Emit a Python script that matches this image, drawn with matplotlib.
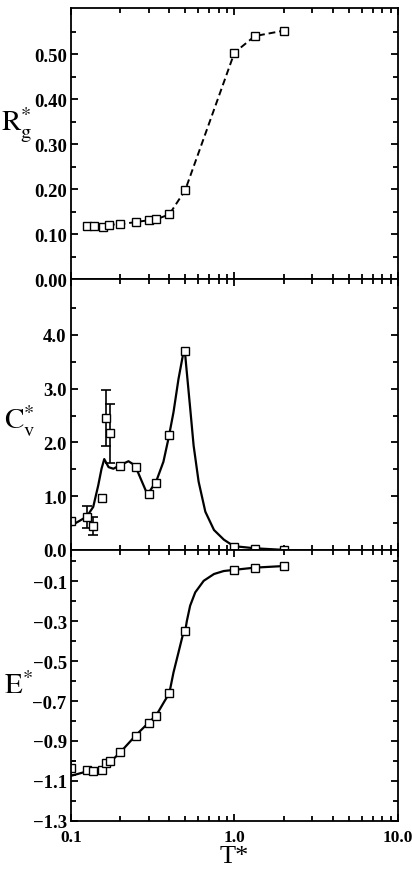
"""
Three stacked panels vs reduced temperature T*:
radius of gyration Rg*, heat capacity Cv*, energy E*
"""

import matplotlib
matplotlib.use("Agg")

import matplotlib.pyplot as plt
from matplotlib.ticker import FuncFormatter, LogLocator, NullFormatter
import numpy as np

plt.rcParams.update({
    "font.family":       "Liberation Serif",
    "mathtext.fontset":  "stix",
    "axes.linewidth":    1.3,
    "xtick.direction":   "in",
    "ytick.direction":   "in",
})

# ── data ─────────────────────────────────────────────────────────────────────
# radius of gyration
T_rg = [0.125, 0.139, 0.158, 0.172, 0.2, 0.25, 0.3, 0.333, 0.4, 0.5, 1.0, 1.333, 2.0]
rg   = [0.118, 0.118, 0.117, 0.121, 0.122, 0.127, 0.131, 0.133, 0.144, 0.198, 0.504, 0.541, 0.553]

# heat capacity, simulation points
T_cv   = [0.1, 0.125, 0.1375, 0.156, 0.164, 0.173, 0.2, 0.25, 0.3, 0.333, 0.4, 0.5, 1.0, 1.333, 2.0]
cv     = [0.53, 0.61, 0.44, 0.96, 2.46, 2.17, 1.57, 1.55, 1.04, 1.25, 2.13, 3.71, 0.05, 0.02, 0.0]
cv_err = [0.0, 0.20, 0.17, 0.0, 0.52, 0.55, 0.0, 0.0, 0.0, 0.0, 0.0, 0.0, 0.0, 0.0, 0.0]

# heat capacity, smooth curve
T_cv_fit = [0.1, 0.113, 0.125, 0.137, 0.147, 0.154, 0.160, 0.170, 0.182, 0.198, 0.225,
            0.247, 0.272, 0.294, 0.332, 0.368, 0.395, 0.424, 0.455, 0.484, 0.497, 0.507,
            0.537, 0.563, 0.604, 0.664, 0.75, 0.862, 0.99, 1.33, 2.0]
cv_fit   = [0.45, 0.54, 0.62, 0.80, 1.20, 1.51, 1.69, 1.54, 1.51, 1.57, 1.65,
            1.57, 1.27, 1.03, 1.27, 1.64, 2.07, 2.56, 3.18, 3.62, 3.72, 3.43,
            2.62, 1.94, 1.27, 0.71, 0.37, 0.19, 0.07, 0.03, 0.0]

# energy, simulation points
T_e   = [0.1, 0.125, 0.1375, 0.156, 0.164, 0.173, 0.2, 0.25, 0.3, 0.333, 0.4, 0.5, 1.0, 1.333, 2.0]
e     = [-1.038, -1.048, -1.051, -1.046, -1.010, -1.000, -0.955, -0.874, -0.811, -0.774,
         -0.662, -0.350, -0.042, -0.033, -0.023]
e_err = [0.035, 0, 0, 0, 0, 0, 0, 0, 0, 0, 0, 0, 0, 0, 0]

# energy, smooth curve
T_e_fit = [0.1, 0.119, 0.144, 0.155, 0.173, 0.2, 0.25, 0.3, 0.333, 0.368, 0.4, 0.424,
           0.455, 0.482, 0.5, 0.512, 0.536, 0.576, 0.649, 0.75, 0.86, 1.0, 1.333, 2.0]
e_fit   = [-1.075, -1.058, -1.053, -1.041, -1.008, -0.958, -0.871, -0.807, -0.771, -0.71,
           -0.66, -0.557, -0.456, -0.373, -0.349, -0.298, -0.222, -0.155, -0.097, -0.063,
           -0.048, -0.042, -0.031, -0.023]

# ── figure ───────────────────────────────────────────────────────────────────
fig = plt.figure(figsize=(4.12, 8.70), dpi=100)
left, width, height = 0.172, 0.794, 0.3113
ax_rg = fig.add_axes([left, 0.0555 + 2 * height, width, height])
ax_cv = fig.add_axes([left, 0.0555 + height, width, height], sharex=ax_rg)
ax_e  = fig.add_axes([left, 0.0555, width, height], sharex=ax_rg)

mk = dict(marker="s", markersize=5.5, markerfacecolor="white",
          markeredgecolor="black", markeredgewidth=1.0)

ax_rg.plot(T_rg, rg, color="black", linestyle=(0, (3.5, 2)), linewidth=1.4, **mk)

ax_cv.plot(T_cv_fit, cv_fit, color="black", linewidth=1.6)
err_idx = [i for i, v in enumerate(cv_err) if v > 0]
ax_cv.errorbar([T_cv[i] for i in err_idx], [cv[i] for i in err_idx],
               yerr=[cv_err[i] for i in err_idx], fmt="none", ecolor="black",
               elinewidth=1.2, capsize=3.5, capthick=1.2)
ax_cv.plot(T_cv, cv, linestyle="none", **mk)

ax_e.plot(T_e_fit, e_fit, color="black", linewidth=1.6)
err_idx = [i for i, v in enumerate(e_err) if v > 0]
ax_e.errorbar([T_e[i] for i in err_idx], [e[i] for i in err_idx],
              yerr=[e_err[i] for i in err_idx], fmt="none", ecolor="black",
              elinewidth=1.2, capsize=3.5, capthick=1.2)
ax_e.plot(T_e, e, linestyle="none", **mk)


def fmt(decimals):
    return FuncFormatter(lambda v, p: f"{v:.{decimals}f}".replace("-", "\u2212"))


TICK_FS = 13.5

ax_rg.set_xscale("log")
ax_rg.set_xlim(0.1, 10.0)

ax_rg.set_ylim(0.0, 0.603)
ax_rg.set_yticks(np.arange(0.0, 0.51, 0.1))
ax_rg.set_yticks(np.arange(0.05, 0.60, 0.1), minor=True)
ax_rg.yaxis.set_major_formatter(fmt(2))

ax_cv.set_ylim(0.0, 5.04)
ax_cv.set_yticks(np.arange(0.0, 4.01, 1.0))
ax_cv.set_yticks(np.arange(0.5, 5.0, 1.0), minor=True)
ax_cv.yaxis.set_major_formatter(fmt(1))

ax_e.set_ylim(-1.3, 0.058)
ax_e.set_yticks(np.arange(-1.3, -0.05, 0.2))
ax_e.set_yticks(np.arange(-1.2, 0.05, 0.2), minor=True)
ax_e.yaxis.set_major_formatter(fmt(1))

for ax in (ax_rg, ax_cv, ax_e):
    ax.xaxis.set_major_locator(LogLocator(base=10, numticks=10))
    ax.xaxis.set_minor_locator(LogLocator(base=10, subs=np.arange(2, 10), numticks=10))
    ax.xaxis.set_minor_formatter(NullFormatter())
    ax.tick_params(which="both", top=True, right=True, width=1.3)
    ax.tick_params(which="major", length=5)
    ax.tick_params(which="minor", length=3.5)
    ax.tick_params(axis="y", pad=3)
    for lab in ax.get_yticklabels():
        lab.set_fontsize(TICK_FS)
        lab.set_fontweight("bold")

for ax in (ax_rg, ax_cv):
    ax.tick_params(axis="x", labelbottom=False)

ax_e.tick_params(axis="x", pad=6)
ax_e.xaxis.set_major_formatter(FuncFormatter(lambda v, p: f"{v:.1f}"))
for lab in ax_e.get_xticklabels():
    lab.set_fontsize(12.5)
    lab.set_fontweight("bold")

ax_rg.set_ylabel(r"$\mathrm{R}_\mathrm{g}^{*}$", fontsize=21, rotation=0, va="center")
ax_cv.set_ylabel(r"$\mathrm{C}_\mathrm{v}^{*}$", fontsize=21, rotation=0, va="center")
ax_e.set_ylabel(r"$\mathrm{E}^{*}$", fontsize=21, rotation=0, va="center")
ax_rg.yaxis.set_label_coords(-0.165, 0.57)
ax_cv.yaxis.set_label_coords(-0.155, 0.48)
ax_e.yaxis.set_label_coords(-0.16, 0.50)

ax_e.set_xlabel("T*", fontsize=19, labelpad=0)

fig.savefig("out.png", dpi=100)
